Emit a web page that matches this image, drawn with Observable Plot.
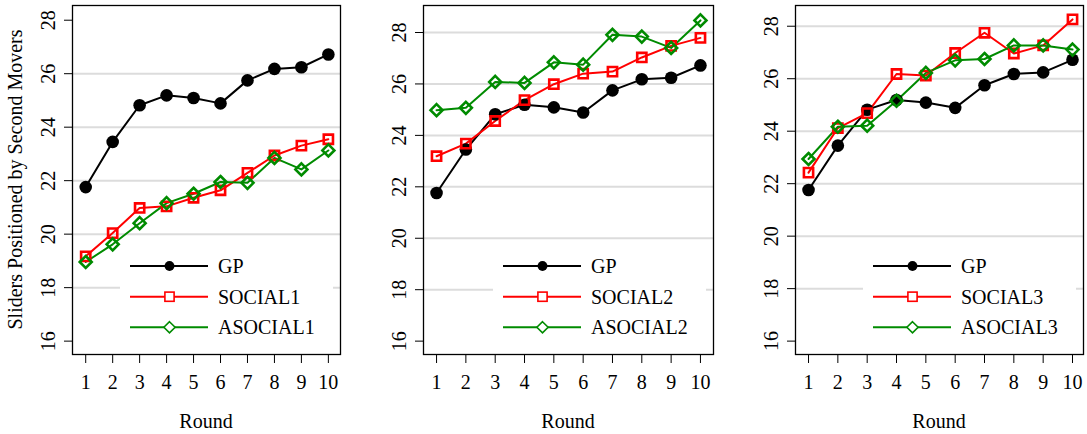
<!DOCTYPE html>
<html><head><meta charset="utf-8">
<script src="https://cdn.jsdelivr.net/npm/d3@7"></script>
<script src="https://cdn.jsdelivr.net/npm/@observablehq/plot@0.6"></script>
<style>
body{margin:0;background:#fff;}
#row{display:flex;width:1087px;height:434px;overflow:hidden;}
#row svg{display:block;flex:none;}
</style></head><body><div id="row"></div>
<script>
const rounds = [1, 2, 3, 4, 5, 6, 7, 8, 9, 10];
const yTicks = [16, 18, 20, 22, 24, 26, 28];
const gp       = [21.76, 23.45, 24.82, 25.19, 25.09, 24.89, 25.75, 26.18, 26.24, 26.72];
const social1  = [19.17, 20.04, 20.98, 21.04, 21.36, 21.64, 22.29, 22.94, 23.31, 23.55];
const asocial1 = [18.96, 19.62, 20.41, 21.16, 21.51, 21.95, 21.92, 22.85, 22.42, 23.13];
const social2  = [23.19, 23.68, 24.56, 25.37, 25.99, 26.40, 26.48, 27.03, 27.48, 27.79];
const asocial2 = [24.98, 25.07, 26.08, 26.04, 26.84, 26.75, 27.91, 27.84, 27.40, 28.47];
const social3  = [22.42, 24.12, 24.69, 26.18, 26.12, 26.98, 27.75, 26.96, 27.27, 28.26];
const asocial3 = [22.94, 24.17, 24.21, 25.16, 26.22, 26.70, 26.75, 27.27, 27.27, 27.11];
const legendLabels = [["GP", "SOCIAL1", "ASOCIAL1"], ["GP", "SOCIAL2", "ASOCIAL2"], ["GP", "SOCIAL3", "ASOCIAL3"]];
const yTitle = "Sliders Positioned by Second Movers";
const xTitle = "Round";

const FONT = '"Liberation Serif", "Times New Roman", Times, serif';
const BLACK = "#000000", RED = "#ff0000", GREEN = "#008b00";

const panels = [
  {width: 362, ml: 72, mr: 22, xdom: [0.51, 10.45], ydom: [15.50, 28.55], grid: [18, 20, 22, 24, 26], s: social1, a: asocial1, labels: legendLabels[0], title: true},
  {width: 362, ml: 61, mr: 11, xdom: [0.555, 10.445], ydom: [15.48, 29.05], grid: [18, 20, 22, 24, 26, 28], s: social2, a: asocial2, labels: legendLabels[1], title: false},
  {width: 363, ml: 71, mr: 4, xdom: [0.556, 10.375], ydom: [15.49, 28.79], grid: [18, 20, 22, 24, 26, 28], s: social3, a: asocial3, labels: legendLabels[2], title: false}
];

const H = 434, MT = 5, MB = 80;

for (const p of panels) {
  const rows = (vals) => rounds.map((r, i) => ({round: r, value: vals[i]}));
  const g = rows(gp), s = rows(p.s), a = rows(p.a);
  const svg = Plot.plot({
    width: p.width, height: H,
    marginLeft: p.ml, marginRight: p.mr, marginTop: MT, marginBottom: MB,
    x: {domain: p.xdom, axis: null},
    y: {domain: p.ydom, axis: null},
    style: `font-family: ${FONT}; font-size: 20px; background: white; color: black; overflow: visible;`,
    marks: [
      Plot.ruleY(p.grid, {stroke: "#dcdcdc", strokeWidth: 2}),
      Plot.line(g, {x: "round", y: "value", stroke: BLACK, strokeWidth: 2}),
      Plot.line(s, {x: "round", y: "value", stroke: RED, strokeWidth: 2}),
      Plot.line(a, {x: "round", y: "value", stroke: GREEN, strokeWidth: 2}),
      Plot.dot(g, {x: "round", y: "value", r: 6.3, fill: BLACK, stroke: "none"}),
      Plot.dot(s, {x: "round", y: "value", symbol: "square", r: 5.2, fill: "none", stroke: RED, strokeWidth: 2.6}),
      Plot.dot(a, {x: "round", y: "value", symbol: "diamond2", r: 5.4, fill: "none", stroke: GREEN, strokeWidth: 2.6}),
      Plot.axisX({ticks: rounds, tickSize: 9, tickPadding: 11, fontSize: 20, fontFamily: FONT, label: null, stroke: BLACK}),
      Plot.axisY({ticks: yTicks, tickSize: 8, tickFormat: () => "", label: null, stroke: BLACK}),
      Plot.text(yTicks, {y: d => d, frameAnchor: "left", dx: -24, rotate: -90, text: d => String(d), textAnchor: "middle", lineAnchor: "middle", fontSize: 20, fontFamily: FONT}),
      Plot.frame({stroke: BLACK, strokeWidth: 1.3})
    ]
  });
  const sel = d3.select(svg);
  const boxL = p.ml, boxR = p.width - p.mr, boxT = MT, boxB = H - MB;
  sel.append("text").attr("x", (boxL + boxR) / 2).attr("y", 427.5)
    .attr("text-anchor", "middle").attr("font-family", FONT).attr("font-size", 20).attr("fill", "black").text(xTitle);
  if (p.title) {
    sel.append("text").attr("transform", `translate(${15},${(boxT + boxB) / 2}) rotate(-90)`)
      .attr("text-anchor", "middle").attr("dy", "0.33em").attr("font-family", FONT).attr("font-size", 20).attr("fill", "black").text(yTitle);
  }
  const lx = boxR - 210;
  const lg = sel.append("g");
  lg.append("rect").attr("x", lx - 10).attr("y", 247).attr("width", 213).attr("height", 98).attr("fill", "white");
  const ys = [266, 296.7, 327.3];
  const cols = [BLACK, RED, GREEN];
  ys.forEach((yy, i) => {
    lg.append("line").attr("x1", lx).attr("x2", lx + 78).attr("y1", yy).attr("y2", yy).attr("stroke", cols[i]).attr("stroke-width", 1.9);
    const mx = lx + 39.5;
    if (i === 0) lg.append("circle").attr("cx", mx).attr("cy", yy).attr("r", 4.9).attr("fill", BLACK);
    if (i === 1) lg.append("rect").attr("x", mx - 4.6).attr("y", yy - 4.6).attr("width", 9.2).attr("height", 9.2).attr("fill", "white").attr("stroke", RED).attr("stroke-width", 1.6);
    if (i === 2) lg.append("path").attr("d", `M${mx},${yy - 5.6}L${mx + 5.6},${yy}L${mx},${yy + 5.6}L${mx - 5.6},${yy}Z`).attr("fill", "white").attr("stroke", GREEN).attr("stroke-width", 1.6);
    lg.append("text").attr("x", lx + 88).attr("y", yy).attr("dy", "0.35em").attr("text-anchor", "start").attr("font-family", FONT).attr("font-size", 20).attr("fill", "black").text(p.labels[i]);
  });
  document.getElementById("row").appendChild(svg);
}
</script>
</body></html>
